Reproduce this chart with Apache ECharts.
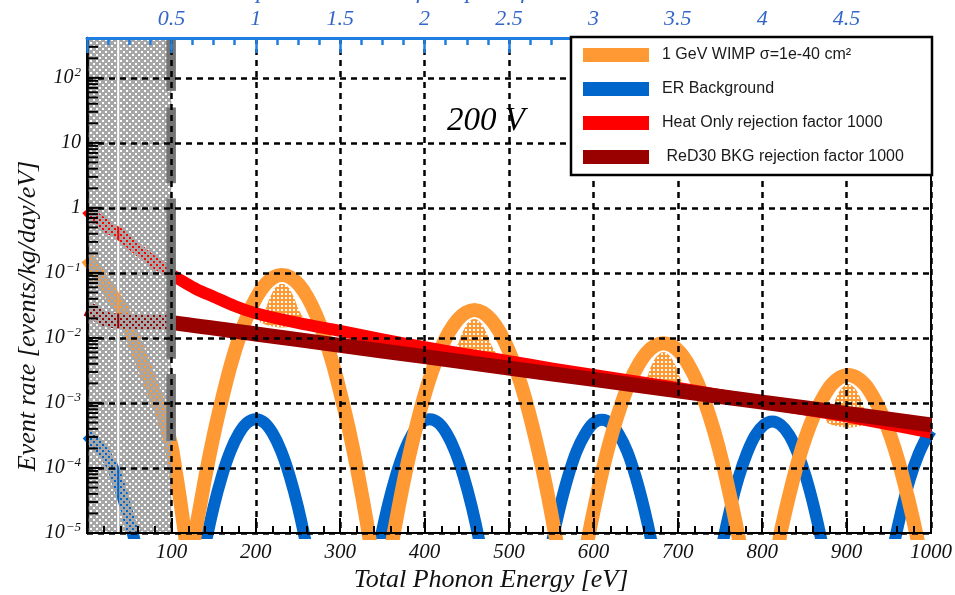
<!DOCTYPE html>
<html>
<head>
<meta charset="utf-8">
<script src="https://cdn.jsdelivr.net/npm/echarts@6/dist/echarts.min.js"></script>
<style>
  html, body { margin: 0; padding: 0; background: #fff; }
  #chart { width: 955px; height: 595px; }
</style>
</head>
<body>
<div id="chart"></div>
<script>
// Total phonon energy [eV] and event rate [events/kg/day/eV] for each curve.
const wimpEnergy = [0, 5, 10, 20, 30, 40, 50, 60, 70, 80, 90, 100, 105, 110, 115,
  121, 131, 141, 151, 161, 171, 181, 191, 201, 211, 221, 231, 241, 251, 261, 271, 281, 291, 301, 311, 321, 331, 341,
  349, 359, 369, 379, 389, 399, 409, 419, 429, 439, 449, 459, 469, 479, 489, 499, 509, 519, 529, 539, 549, 559, 569,
  583, 593, 603, 613, 623, 633, 643, 653, 663, 673, 683, 693, 703, 713, 723, 733, 743, 753, 763, 773, 783,
  812, 822, 832, 842, 852, 862, 872, 882, 892, 902, 912, 922, 932, 942, 952, 962, 972, 982, 992, 1000];
const wimpRate = [0.17, 0.14, 0.11, 0.07, 0.045, 0.03, 0.014, 0.0065, 0.0031, 0.0014, 6.5e-4, 2.2e-4, 9e-5, 3.5e-5, 1.2e-5,
  4e-6, 1.6e-5, 8.3e-5, 3.6e-4, 1.3e-3, 4.1e-3, 0.0107, 0.0233, 0.0428, 0.0659, 0.0855, 0.093, 0.0855, 0.0659, 0.0428, 0.0233, 0.0107, 4.1e-3, 1.3e-3, 3.6e-4, 8.3e-5, 1.6e-5, 2.6e-6,
  7.4e-7, 4.6e-6, 2.4e-5, 1.05e-4, 3.8e-4, 1.2e-3, 3.1e-3, 6.7e-3, 0.0123, 0.019, 0.0246, 0.027, 0.0246, 0.019, 0.0123, 6.7e-3, 3.1e-3, 1.2e-3, 3.8e-4, 1.05e-4, 2.4e-5, 4.6e-6, 7.4e-7,
  1.4e-6, 7.4e-6, 3.2e-5, 1.2e-4, 3.7e-4, 9.5e-4, 2.1e-3, 3.8e-3, 5.9e-3, 7.6e-3, 8.3e-3, 7.6e-3, 5.9e-3, 3.8e-3, 2.1e-3, 9.5e-4, 3.7e-4, 1.2e-4, 3.2e-5, 7.4e-6, 1.4e-6,
  2.4e-6, 1.05e-5, 3.8e-5, 1.2e-4, 3.1e-4, 6.7e-4, 1.2e-3, 1.9e-3, 2.45e-3, 2.7e-3, 2.45e-3, 1.9e-3, 1.2e-3, 6.7e-4, 3.1e-4, 1.2e-4, 3.8e-5, 1.05e-5, 2.4e-6, 6e-7];

const erEnergy = [0, 10, 20, 30, 40, 50, 60, 70,
  130, 140, 150, 160, 170, 180, 190, 200, 210, 220, 230, 240, 250, 260, 270,
  336, 346, 356, 366, 376, 386, 396, 406, 416, 426, 436, 446, 456, 466, 476,
  540, 550, 560, 570, 580, 590, 600, 610, 620, 630, 640, 650, 660, 670, 680,
  742, 752, 762, 772, 782, 792, 802, 812, 822, 832, 842, 852, 862, 872, 882,
  945, 955, 965, 975, 985, 995, 1000];
const erRate = [3.3e-4, 2.4e-4, 1.7e-4, 1.05e-4, 4.5e-5, 1.6e-5, 5e-6, 1.5e-6,
  1.2e-6, 6.3e-6, 2.5e-5, 7.6e-5, 1.82e-4, 3.4e-4, 4.97e-4, 5.6e-4, 4.97e-4, 3.4e-4, 1.82e-4, 7.6e-5, 2.5e-5, 6.3e-6, 1.2e-6,
  1.2e-6, 6.3e-6, 2.5e-5, 7.6e-5, 1.82e-4, 3.4e-4, 4.97e-4, 5.6e-4, 4.97e-4, 3.4e-4, 1.82e-4, 7.6e-5, 2.5e-5, 6.3e-6, 1.2e-6,
  1.2e-6, 6.2e-6, 2.4e-5, 7.4e-5, 1.8e-4, 3.3e-4, 4.9e-4, 5.5e-4, 4.9e-4, 3.3e-4, 1.8e-4, 7.4e-5, 2.4e-5, 6.2e-6, 1.2e-6,
  1.1e-6, 5.9e-6, 2.3e-5, 7.1e-5, 1.7e-4, 3.2e-4, 4.6e-4, 5.2e-4, 4.6e-4, 3.2e-4, 1.7e-4, 7.1e-5, 2.3e-5, 5.9e-6, 1.1e-6,
  1.1e-6, 5.6e-6, 2.2e-5, 6.8e-5, 1.6e-4, 3e-4, 3.8e-4];

const heatOnlyEnergy = [0, 5, 15, 25, 38, 50, 62, 75, 90, 100, 115, 130, 150, 175, 200, 250, 300, 350, 400, 450, 500,
  550, 600, 650, 700, 750, 800, 850, 900, 950, 1000];
const heatOnlyRate = [0.95, 0.8, 0.63, 0.5, 0.4, 0.3, 0.22, 0.16, 0.12, 0.095, 0.072, 0.056, 0.043, 0.031, 0.024, 0.017, 0.0128, 0.0095, 0.0072, 0.0056, 0.0044,
  0.0034, 0.0027, 0.00215, 0.0017, 0.00132, 0.00102, 0.0008, 0.00062, 0.00047, 0.00035];

const red30Energy = [0, 5, 10, 20, 30, 50, 75, 100, 200, 300, 400, 500, 600, 700, 800, 900, 1000];
const red30Rate = [0.028, 0.026, 0.024, 0.02, 0.0185, 0.018, 0.0178, 0.0172, 0.0115, 0.0077, 0.00515, 0.00344, 0.0023, 0.00154, 0.00103, 0.00069, 0.00046];

const seriesNames = ['1 GeV WIMP σ=1e-40 cm²', 'ER Background', 'Heat Only rejection factor 1000', ' ReD30 BKG rejection factor 1000'];
const seriesColors = ['#ff9933', '#0066cc', '#ff0000', '#990000'];

// Axis ranges
const energyMax = 1000;
const pairsMax = 5;            // electron-hole pairs at 200 V (200 eV per pair)
const rateMin = 1e-5;
const rateMax = 410;

// Region below the analysis threshold
const thresholdEnergy = 100;
const hatchGapEnergy = 37;
const stripSegments = [[2.6e-4, 0.0028], [0.0048, 1.4], [2.4, 35], [63, rateMax]];

const SERIF = "'Liberation Serif', 'Times New Roman', serif";
const SANS = "'Liberation Sans', Arial, sans-serif";

// Small repeating tiles with transparent dots, like ROOT fill patterns
function makeTile(size, color, holes) {
  const c = document.createElement('canvas');
  c.width = size; c.height = size;
  const g = c.getContext('2d');
  g.fillStyle = color;
  g.fillRect(0, 0, size, size);
  holes.forEach(h => g.clearRect(h[0], h[1], 2, 2));
  return { image: c, repeat: 'repeat' };
}
const hatchPattern = makeTile(6, '#a6a6a6', [[0, 0], [3, 3]]);
const wimpPattern = makeTile(4, '#ff9933', [[1, 1]]);

// Local maxima of the WIMP spectrum above threshold
const wimpPeaks = [];
for (let j = 1; j < wimpRate.length - 1; j++) {
  if (wimpEnergy[j] > thresholdEnergy && wimpRate[j] > wimpRate[j - 1] && wimpRate[j] > wimpRate[j + 1]) {
    wimpPeaks.push([wimpEnergy[j], wimpRate[j]]);
  }
}

// Log-axis ticks: decades and 2..9 sub-decades
const yTicks = [];
for (let k = -5; k <= 2; k++) {
  for (let m = 1; m <= 9; m++) {
    const v = m * Math.pow(10, k);
    if (v < rateMax) yTicks.push([0, v, m === 1 ? 1 : 0]);
  }
}

function curve(i, xs, ys, width, z) {
  return {
    type: 'line', name: seriesNames[i],
    data: xs.map((x, j) => [x, ys[j]]),
    showSymbol: false, symbol: 'none', smooth: 0.3,
    itemStyle: { color: seriesColors[i] },
    lineStyle: { color: seriesColors[i], width: width, cap: 'butt', join: 'round' },
    z: z, silent: true, clip: true
  };
}

function supLabel(v) {
  const lg = Math.log10(v);
  const k = Math.round(lg);
  if (Math.abs(lg - k) > 1e-6) return '';
  if (k === 0) return '1';
  if (k === 1) return '10';
  return '{b|10}{s|' + (k < 0 ? '\u2212' + (-k) : String(k)) + '}';
}

const chart = echarts.init(document.getElementById('chart'), null, { renderer: 'canvas' });

chart.setOption({
  animation: false,
  backgroundColor: '#fff',
  grid: { left: 87, right: 22, top: 38, bottom: 62, show: true, borderColor: '#000', borderWidth: 2, backgroundColor: 'transparent' },
  xAxis: [
    {
      type: 'value', position: 'bottom', min: 0, max: energyMax, interval: 100, z: 10,
      axisLine: { lineStyle: { color: '#000', width: 2 } },
      axisTick: { inside: true, length: 15, lineStyle: { color: '#000', width: 2 } },
      minorTick: { show: true, splitNumber: 5, length: 7, lineStyle: { color: '#000', width: 2 } },
      splitLine: { show: true, lineStyle: { color: '#000', width: 2.5, type: [6, 5] } },
      axisLabel: {
        margin: 9, color: '#111', fontFamily: SERIF, fontStyle: 'italic', fontSize: 21,
        formatter: v => (v === 0 ? '' : String(v))
      }
    },
    {
      type: 'value', position: 'top', min: 0, max: pairsMax, interval: 0.5, z: 10,
      axisLine: { lineStyle: { color: '#1f7fe0', width: 3 } },
      axisTick: { inside: true, length: 15, lineStyle: { color: '#1f7fe0', width: 2.5 } },
      minorTick: { show: true, splitNumber: 4, length: 7, lineStyle: { color: '#1f7fe0', width: 2.5 } },
      splitLine: { show: false },
      axisLabel: {
        margin: 8, color: '#3466c9', fontFamily: SERIF, fontStyle: 'italic', fontSize: 22,
        formatter: v => (v === 0 || v === pairsMax ? '' : String(v))
      }
    }
  ],
  yAxis: {
    type: 'log', logBase: 10, min: rateMin, max: rateMax, z: 10,
    axisLine: { show: true, lineStyle: { color: '#000', width: 2.5 } },
    axisTick: { show: false },
    splitLine: { show: true, lineStyle: { color: '#000', width: 2.5, type: [6, 5] } },
    axisLabel: {
      margin: 6, color: '#111', fontFamily: SERIF, fontStyle: 'italic', fontSize: 20,
      formatter: supLabel,
      rich: {
        b: { fontFamily: SERIF, fontStyle: 'italic', fontSize: 20, color: '#111' },
        s: { fontFamily: SERIF, fontStyle: 'italic', fontSize: 13, color: '#111', padding: [0, 0, 11, 1] }
      }
    }
  },
  legend: {
    data: seriesNames, orient: 'vertical', left: 583, top: 47, padding: 0,
    icon: 'rect', itemWidth: 66, itemHeight: 14, itemGap: 18,
    selectedMode: false, z: 120,
    itemStyle: { borderWidth: 0 },
    textStyle: { fontFamily: SANS, fontSize: 16, color: '#1a1a1a', padding: [0, 0, 0, 8] }
  },
  graphic: [
    {
      type: 'rect', z: 100, silent: true,
      shape: { x: 571, y: 37, width: 361, height: 138 },
      style: { fill: '#fff', stroke: '#000', lineWidth: 2.5 }
    },
    {
      type: 'text', z: 50, silent: true, x: 447, y: 121,
      style: { text: '200 V', fontFamily: SERIF, fontStyle: 'italic', fontSize: 33, fill: '#000', verticalAlign: 'middle' }
    },
    {
      type: 'text', z: 50, silent: true, x: 467, y: 4,
      style: { text: 'Expected number of e-h pairs for electron recoils', fontFamily: SERIF, fontStyle: 'italic', fontSize: 24, fill: '#3466c9', align: 'center', verticalAlign: 'bottom' }
    },
    {
      type: 'text', z: 50, silent: true, x: 491, y: 580,
      style: { text: 'Total Phonon Energy [eV]', fontFamily: SERIF, fontStyle: 'italic', fontSize: 26, fill: '#111', align: 'center', verticalAlign: 'middle' }
    },
    {
      type: 'text', z: 50, silent: true, x: 28, y: 316, rotation: Math.PI / 2,
      style: { text: 'Event rate [events/kg/day/eV]', fontFamily: SERIF, fontStyle: 'italic', fontSize: 26, fill: '#111', align: 'center', verticalAlign: 'middle' }
    }
  ],
  series: [
    {
      // dotted cores under the WIMP peaks
      type: 'custom', name: 'wimpCore', z: 1, silent: true,
      data: wimpPeaks,
      encode: { x: 0, y: 1 },
      renderItem: function (params, api) {
        const e0 = api.value(0), r0 = api.value(1);
        const apex = api.coord([e0, r0]);
        const level = r0 * Math.pow(10, -0.62);
        const pts = [];
        for (let j = 0; j < wimpEnergy.length; j++) {
          if (Math.abs(wimpEnergy[j] - e0) <= 45 && wimpRate[j] >= level) {
            const p = api.coord([wimpEnergy[j], wimpRate[j]]);
            pts.push([apex[0] + (p[0] - apex[0]) * 0.6, p[1] + 9]);
          }
        }
        return { type: 'polygon', shape: { points: pts, smooth: 0.5 }, style: { fill: wimpPattern } };
      }
    },
    curve(1, erEnergy, erRate, 12, 2),
    curve(0, wimpEnergy, wimpRate, 14, 2),
    curve(2, heatOnlyEnergy, heatOnlyRate, 12, 3),
    curve(3, red30Energy, red30Rate, 15, 3),
    {
      type: 'custom', name: 'threshold', z: 5, silent: true,
      data: [[0, thresholdEnergy]],
      encode: { x: [0, 1] },
      renderItem: function (params, api) {
        const cs = params.coordSys;
        const x0 = api.coord([api.value(0), 1])[0];
        const x1 = api.coord([api.value(1), 1])[0];
        const xg = api.coord([hatchGapEnergy, 1])[0];
        const children = [
          { type: 'rect', shape: { x: x0, y: cs.y, width: xg - 1 - x0, height: cs.height }, style: { fill: hatchPattern } },
          { type: 'rect', shape: { x: xg + 1, y: cs.y, width: x1 - xg - 1, height: cs.height }, style: { fill: hatchPattern } }
        ];
        stripSegments.forEach(function (seg) {
          const yTop = api.coord([api.value(1), seg[1]])[1];
          const yBot = api.coord([api.value(1), seg[0]])[1];
          children.push({ type: 'rect', shape: { x: x1 - 5, y: yTop, width: 9.5, height: yBot - yTop }, style: { fill: '#747474' } });
        });
        return { type: 'group', children: children };
      }
    },
    {
      type: 'custom', name: 'yticks', z: 6, silent: true, clip: false,
      data: yTicks,
      encode: { x: 0, y: 1 },
      renderItem: function (params, api) {
        const p = api.coord([0, api.value(1)]);
        const len = api.value(2) ? 15 : 11;
        return { type: 'line', shape: { x1: p[0], y1: p[1], x2: p[0] + len, y2: p[1] }, style: { stroke: '#000', lineWidth: 2 } };
      }
    }
  ]
});
</script>
</body>
</html>
